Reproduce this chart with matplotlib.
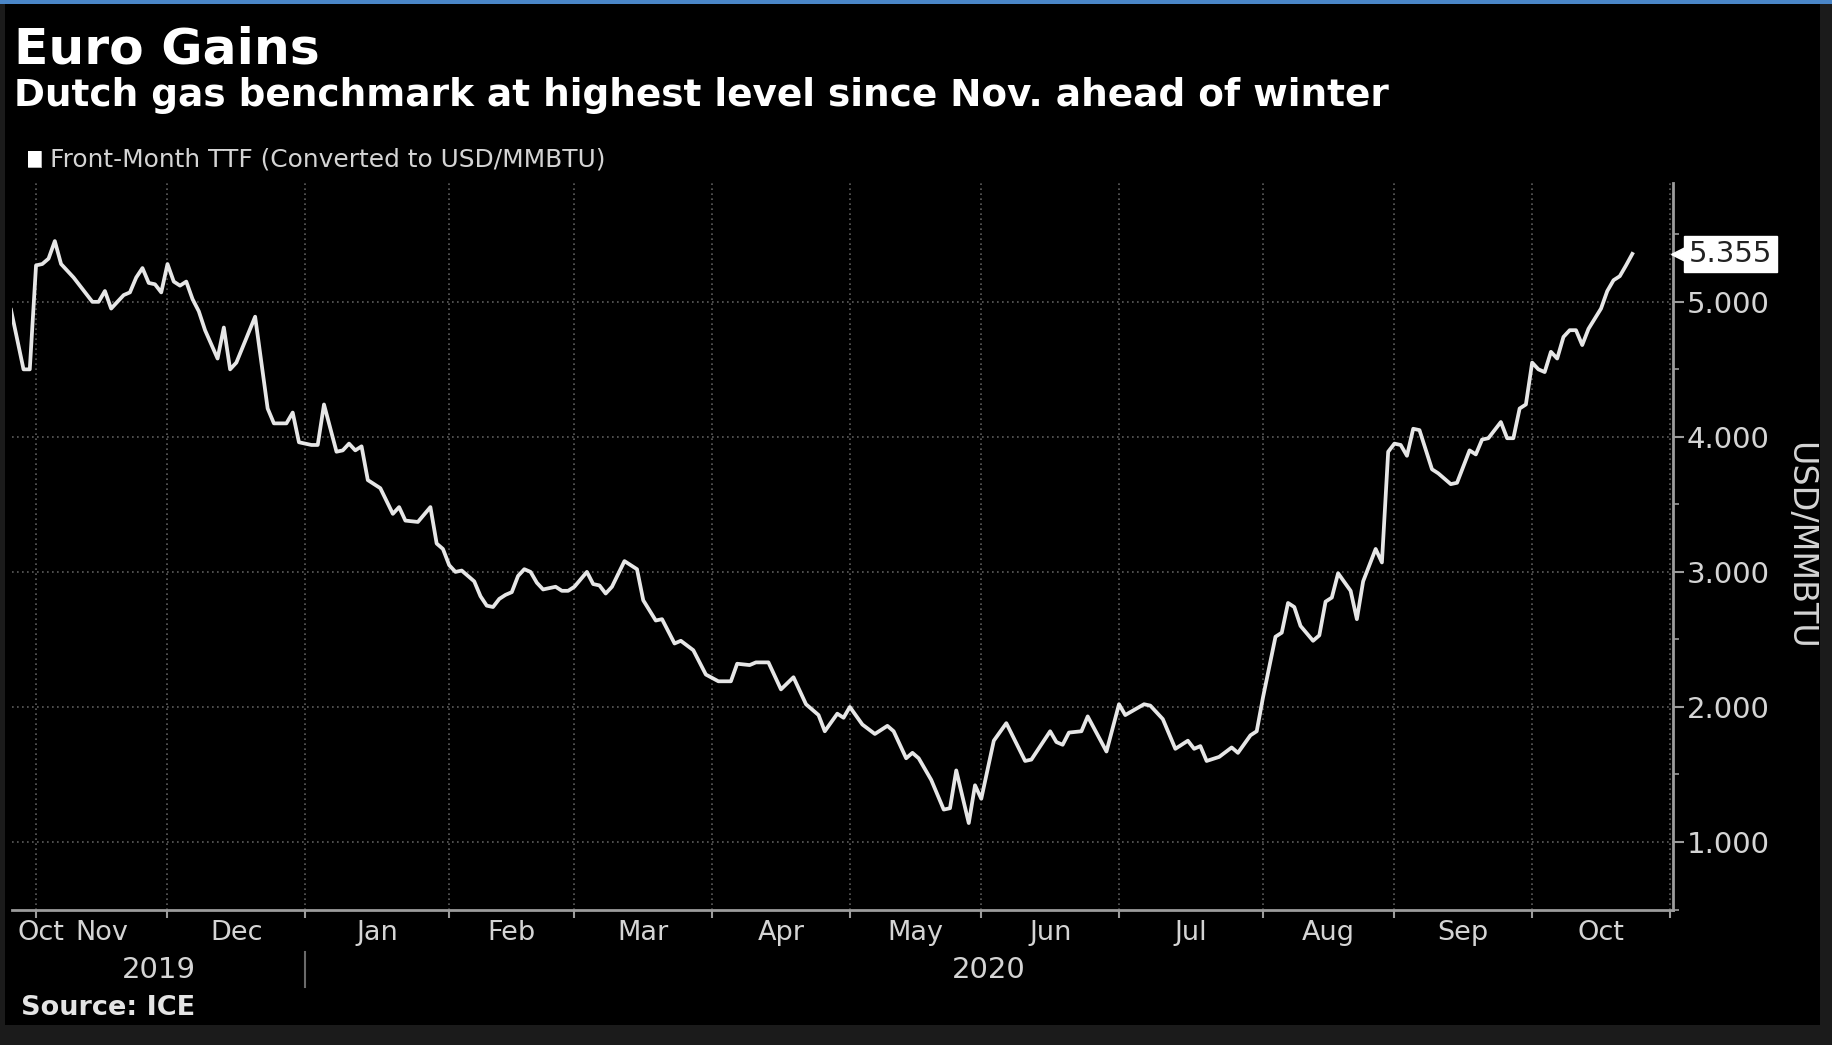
import numpy as np
import matplotlib
matplotlib.use('Agg')
import matplotlib.pyplot as plt
from matplotlib.patches import Rectangle
from matplotlib.transforms import blended_transform_factory

# Front-month TTF settlement (converted to USD/MMBTU), trading days
trade_dates = [
    '2019-10-28', '2019-10-29', '2019-10-30', '2019-10-31',
    '2019-11-01', '2019-11-04', '2019-11-05', '2019-11-06', '2019-11-07', '2019-11-08',
    '2019-11-11', '2019-11-12', '2019-11-13', '2019-11-14', '2019-11-15',
    '2019-11-18', '2019-11-19', '2019-11-20', '2019-11-21', '2019-11-22',
    '2019-11-25', '2019-11-26', '2019-11-27', '2019-11-28', '2019-11-29',
    '2019-12-02', '2019-12-03', '2019-12-04', '2019-12-05', '2019-12-06',
    '2019-12-09', '2019-12-10', '2019-12-12', '2019-12-13', '2019-12-16',
    '2019-12-17', '2019-12-20', '2019-12-24', '2019-12-25', '2019-12-27',
    '2019-12-30', '2019-12-31',
    '2020-01-02', '2020-01-03', '2020-01-06', '2020-01-08', '2020-01-09',
    '2020-01-10', '2020-01-13', '2020-01-14', '2020-01-15', '2020-01-17',
    '2020-01-21', '2020-01-22', '2020-01-23', '2020-01-27', '2020-01-29',
    '2020-01-30', '2020-01-31',
    '2020-02-03', '2020-02-04', '2020-02-05', '2020-02-07', '2020-02-10',
    '2020-02-11', '2020-02-12', '2020-02-13', '2020-02-14', '2020-02-17',
    '2020-02-18', '2020-02-19', '2020-02-20', '2020-02-21', '2020-02-24',
    '2020-02-25', '2020-02-26', '2020-02-27', '2020-02-28',
    '2020-03-02', '2020-03-04', '2020-03-05', '2020-03-06', '2020-03-09',
    '2020-03-10', '2020-03-12', '2020-03-16', '2020-03-17', '2020-03-19',
    '2020-03-20', '2020-03-24', '2020-03-25', '2020-03-27', '2020-03-31',
    '2020-04-02', '2020-04-06', '2020-04-07', '2020-04-09', '2020-04-10',
    '2020-04-14', '2020-04-16', '2020-04-20', '2020-04-22', '2020-04-24',
    '2020-04-27', '2020-04-29', '2020-04-30',
    '2020-05-01', '2020-05-05', '2020-05-07', '2020-05-11', '2020-05-12',
    '2020-05-14', '2020-05-15', '2020-05-18', '2020-05-20', '2020-05-22',
    '2020-05-25', '2020-05-26', '2020-05-28', '2020-05-29',
    '2020-06-01', '2020-06-03', '2020-06-05', '2020-06-10', '2020-06-11',
    '2020-06-16', '2020-06-17', '2020-06-18', '2020-06-19', '2020-06-23',
    '2020-06-24', '2020-06-29',
    '2020-07-01', '2020-07-02', '2020-07-07', '2020-07-08', '2020-07-10',
    '2020-07-14', '2020-07-16', '2020-07-17', '2020-07-20', '2020-07-21',
    '2020-07-23', '2020-07-27', '2020-07-28', '2020-07-30', '2020-07-31',
    '2020-08-03', '2020-08-05', '2020-08-06', '2020-08-07', '2020-08-10',
    '2020-08-11', '2020-08-13', '2020-08-14', '2020-08-17', '2020-08-18',
    '2020-08-19', '2020-08-21', '2020-08-24', '2020-08-25', '2020-08-27',
    '2020-08-28', '2020-08-31',
    '2020-09-01', '2020-09-02', '2020-09-03', '2020-09-04', '2020-09-07',
    '2020-09-09', '2020-09-10', '2020-09-14', '2020-09-15', '2020-09-17',
    '2020-09-18', '2020-09-21', '2020-09-22', '2020-09-24', '2020-09-25',
    '2020-09-28', '2020-09-29', '2020-09-30',
    '2020-10-01', '2020-10-02', '2020-10-05', '2020-10-06', '2020-10-07',
    '2020-10-08', '2020-10-09', '2020-10-12', '2020-10-13', '2020-10-14',
    '2020-10-16', '2020-10-19', '2020-10-20', '2020-10-21', '2020-10-22',
    '2020-10-23',
]

ttf_usd = [
    4.94, 4.72, 4.50, 4.50,
    5.27, 5.28, 5.32, 5.45, 5.28, 5.23,
    5.18, 5.12, 5.06, 5.00, 5.00,
    5.08, 4.95, 5.00, 5.05, 5.07,
    5.18, 5.25, 5.14, 5.13, 5.07,
    5.28, 5.15, 5.12, 5.15, 5.02,
    4.93, 4.79, 4.58, 4.81, 4.50,
    4.55, 4.89, 4.21, 4.10, 4.10,
    4.18, 3.96,
    3.94, 3.94, 4.24, 3.89, 3.90,
    3.95, 3.90, 3.93, 3.68, 3.62,
    3.43, 3.48, 3.38, 3.37, 3.48,
    3.21, 3.17,
    3.05, 3.00, 3.01, 2.93, 2.82,
    2.75, 2.74, 2.80, 2.83, 2.85,
    2.97, 3.02, 3.00, 2.92, 2.87,
    2.88, 2.89, 2.86, 2.86,
    2.89, 3.00, 2.91, 2.90, 2.84,
    2.89, 3.08, 3.02, 2.79, 2.64,
    2.65, 2.47, 2.49, 2.42, 2.24,
    2.19, 2.19, 2.32, 2.31, 2.33,
    2.33, 2.13, 2.22, 2.02, 1.94,
    1.82, 1.95, 1.92,
    2.00, 1.87, 1.80, 1.86, 1.82,
    1.62, 1.66, 1.62, 1.46, 1.24,
    1.25, 1.53, 1.14, 1.42,
    1.32, 1.75, 1.88, 1.60, 1.61,
    1.82, 1.74, 1.72, 1.81, 1.82,
    1.93, 1.67,
    2.02, 1.94, 2.02, 2.01, 1.91,
    1.69, 1.75, 1.69, 1.71, 1.60,
    1.63, 1.70, 1.66, 1.79, 1.82,
    2.07, 2.52, 2.55, 2.77, 2.74,
    2.60, 2.49, 2.53, 2.78, 2.81,
    2.99, 2.86, 2.65, 2.93, 3.17,
    3.07, 3.89,
    3.95, 3.94, 3.86, 4.06, 4.05,
    3.76, 3.73, 3.65, 3.66, 3.90,
    3.87, 3.98, 3.99, 4.11, 3.99,
    3.99, 4.21, 4.24,
    4.55, 4.50, 4.48, 4.63, 4.58,
    4.74, 4.79, 4.79, 4.68, 4.80,
    4.95, 5.08, 5.16, 5.19, 5.27,
    5.355,
]

# month boundaries for ticks / gridlines and the labels that sit between them
month_starts = ['2019-11-01', '2019-12-01', '2020-01-01', '2020-02-01', '2020-03-01',
                '2020-04-01', '2020-05-01', '2020-06-01', '2020-07-01', '2020-08-01',
                '2020-09-01', '2020-10-01', '2020-11-01']
month_labels = ['Oct', 'Nov', 'Dec', 'Jan', 'Feb', 'Mar', 'Apr', 'May', 'Jun',
                'Jul', 'Aug', 'Sep', 'Oct']
year_labels = ['2019', '2020']
year_break = '2020-01-01'
y_ticks = [1, 2, 3, 4, 5]

# x axis counts trading (week) days from the first point
origin = trade_dates[0]
x = np.busday_count(origin, trade_dates)
tick_x = np.busday_count(origin, month_starts)
break_x = np.busday_count(origin, year_break)

W, H = 1833, 1045
fg = '#d4d4d4'
axis_grey = '#9c9c9c'


def fx(px):
    return px / W


def fy(py):
    return 1 - py / H


fig = plt.figure(figsize=(W / 100, H / 100), dpi=100, facecolor='black')
ax = fig.add_axes([fx(12), fy(909.5), fx(1673) - fx(12), fy(183) - fy(909.5)])
ax.set_facecolor('black')

ax.plot(x, ttf_usd, color='#e6e6e6', linewidth=2.7, solid_joinstyle='round', zorder=3)

ax.set_xlim(0.16, 265.5)
ax.set_ylim(0.709, 5.88)

# right hand value axis
ax.yaxis.tick_right()
ax.set_yticks(y_ticks)
ax.set_yticklabels(['{:.3f}'.format(v) for v in y_ticks])
ax.set_yticks(np.arange(0.5, 6.0, 1.0), minor=True)
ax.tick_params(axis='y', which='major', direction='out', length=8, width=1.5,
               color=axis_grey, pad=2, labelsize=21, labelcolor=fg)
ax.tick_params(axis='y', which='minor', direction='out', length=4, width=1.2,
               color=axis_grey)

ax.set_xticks(tick_x)
ax.set_xticklabels([])
ax.tick_params(axis='x', which='major', direction='out', length=6, width=1.5,
               color=axis_grey)

for side in ['left', 'top']:
    ax.spines[side].set_visible(False)
for side in ['right', 'bottom']:
    ax.spines[side].set_color(axis_grey)
    ax.spines[side].set_linewidth(2)

ax.grid(True, which='major', color='#5c5c5c', linestyle=(0, (1, 2)), linewidth=1.2)
ax.set_axisbelow(True)

# month names centred in each month, first partial October pinned to the left
xf = blended_transform_factory(ax.transData, fig.transFigure)
ax.text(1.0, fy(940), month_labels[0], transform=xf, ha='left', va='baseline',
        fontsize=19.5, color=fg)
for i in range(len(tick_x) - 1):
    mid = (tick_x[i] + tick_x[i + 1]) / 2
    ax.text(mid, fy(940), month_labels[i + 1], transform=xf, ha='center',
            va='baseline', fontsize=19.5, color=fg)

x_lo, x_hi = ax.get_xlim()
ax.text((x_lo + break_x) / 2, fy(978), year_labels[0], transform=xf, ha='center',
        va='baseline', fontsize=21, color=fg)
ax.text((break_x + x_hi) / 2, fy(978), year_labels[1], transform=xf, ha='center',
        va='baseline', fontsize=21, color=fg)
ax.plot([break_x, break_x], [fy(952), fy(987)], transform=xf, color='#6a6a6a',
        linewidth=1.5, clip_on=False)

# last value tag on the axis
last = ttf_usd[-1]
yb = blended_transform_factory(ax.transAxes, ax.transData)
ax.plot([1.0045], [last], transform=yb, marker='<', markersize=13, color='white',
        clip_on=False, zorder=5)
ax.text(1.0095, last, '{:.3f}'.format(last), transform=yb, ha='left', va='center',
        fontsize=21, color='#222222', zorder=6,
        bbox=dict(boxstyle='square,pad=0.15', facecolor='white', edgecolor='white'))

fig.text(fx(1800), fy(546), 'USD/MMBTU', rotation=270, ha='center', va='center',
         fontsize=24, color=fg)

# headline, legend and source
fig.text(fx(14), fy(63), 'Euro Gains', fontsize=36.3, fontweight='bold', color='white',
         va='baseline')
fig.text(fx(14), fy(106), 'Dutch gas benchmark at highest level since Nov. ahead of winter',
         fontsize=26.9, fontweight='bold', color='white', va='baseline')
fig.add_artist(Rectangle((fx(28), fy(167)), fx(13), 16 / H, transform=fig.transFigure,
                         facecolor='white', edgecolor='none'))
fig.add_artist(Rectangle((fx(28), fy(167)), fx(13), 16 / H, transform=fig.transFigure,
                         facecolor='none', edgecolor='white', linewidth=0.5))
fig.text(fx(50), fy(167), 'Front-Month TTF (Converted to USD/MMBTU)', fontsize=17.9,
         color=fg, va='baseline')
fig.text(fx(21), fy(1015), 'Source: ICE', fontsize=19.5, fontweight='bold',
         color='#e4e4e4', va='baseline')

# frame: dark grey margins and the blue rule across the top
border = '#1b1b1b'
fig.add_artist(Rectangle((0, 0), 1, 20 / H, transform=fig.transFigure,
                         facecolor=border, edgecolor='none'))
fig.add_artist(Rectangle((fx(1820), 0), 1 - fx(1820), 1, transform=fig.transFigure,
                         facecolor=border, edgecolor='none'))
fig.add_artist(Rectangle((0, 0), fx(5), 1, transform=fig.transFigure,
                         facecolor=border, edgecolor='none'))
fig.add_artist(Rectangle((0, fy(4)), 1, 4 / H, transform=fig.transFigure,
                         facecolor='#4a86c8', edgecolor='none'))

fig.savefig('out.png', dpi=100, facecolor='black')
